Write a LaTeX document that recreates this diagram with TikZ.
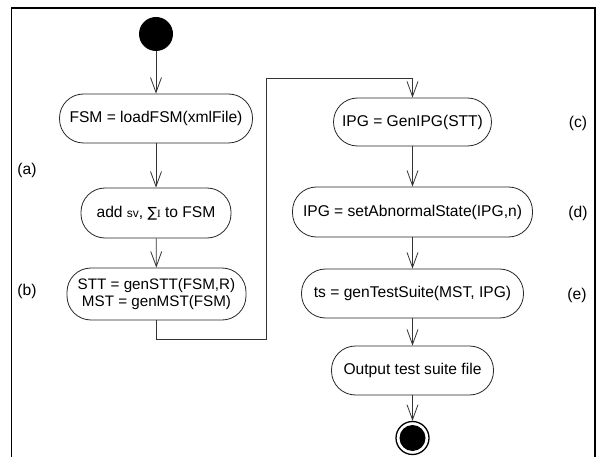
\documentclass[tikz,border=0pt]{standalone}
\usepackage{fontspec}
\setmainfont{Liberation Sans}
\newfontfamily\symfont{DejaVu Sans}
\newfontfamily\serfont{Liberation Serif}
\usetikzlibrary{arrows.meta}
\begin{document}
\begin{tikzpicture}[x=1pt,y=-1pt,
  act/.style={draw=black!85, line width=0.8pt, rounded corners=24pt, inner sep=0pt,
    minimum height=49pt, font=\fontsize{15.6}{18}\selectfont, align=center},
  lab/.style={font=\fontsize{15.6}{18}\selectfont, inner sep=0pt},
  arr/.style={draw=black!80, line width=0.8pt, -{Straight Barb[length=15pt,width=11pt,line width=0.8pt]}},
  frame/.style={draw=black, line width=1.6pt}]
\useasboundingbox (0,0) rectangle (597,457);
\fill[white] (0,0) rectangle (597,457);
\draw[frame] (11.5,457) -- (11.5,8) -- (595,8) -- (595,457);

\node[circle, fill=black, minimum size=34pt, inner sep=0pt] (start) at (156,34) {};
\node[act, minimum width=193pt] (fsm) at (156,118.5) {FSM = loadFSM(xmlFile)};
\node[act, minimum width=150pt, minimum height=50pt] (add) at (156,213)
  {add {\fontsize{12}{12}\selectfont sv}, {\symfont\fontsize{14}{14}\selectfont ∑}{\serfont\fontsize{11}{11}\selectfont I} to FSM};
\node[act, minimum width=179pt, minimum height=52pt, font=\fontsize{15.2}{17.5}\selectfont] (stt) at (156.5,294)
  {STT = genSTT(FSM,R)\\MST = genMST(FSM)};

\node[act, minimum width=158pt, minimum height=48pt] (ipg) at (412.5,122) {IPG = GenIPG(STT)};
\node[act, minimum width=240pt, minimum height=50pt] (abn) at (412.5,212) {IPG = setAbnormalState(IPG,n)};
\node[act, minimum width=222pt] (ts) at (412.5,293.5) {ts = genTestSuite(MST, IPG)};
\node[act, minimum width=162pt] (out) at (412.5,370.5) {Output test suite file};
\node[circle, draw=black, line width=1.3pt, minimum size=33pt, inner sep=0pt] (endo) at (412.5,438) {};
\node[circle, fill=black, minimum size=26pt, inner sep=0pt] (endi) at (412.5,438) {};

\node[lab] (la) at (27,170) {(a)};
\node[lab] (lb) at (27,291) {(b)};
\node[lab] (lc) at (578,123) {(c)};
\node[lab] (ld) at (578,213) {(d)};
\node[lab] (le) at (577,295) {(e)};

\coordinate (c1) at (266,339);
\coordinate (c2) at (266,78);

\draw[arr] (start) -- (fsm);
\draw[arr] (fsm) -- (add);
\draw[arr] (add) -- (stt);
\draw[arr] (stt.south) |- (c1) -- (c2) -| (ipg.north);
\draw[arr] (ipg) -- (abn);
\draw[arr] (abn) -- (ts);
\draw[arr] (ts) -- (out);
\draw[arr] (out) -- (endo);
\end{tikzpicture}
\end{document}
